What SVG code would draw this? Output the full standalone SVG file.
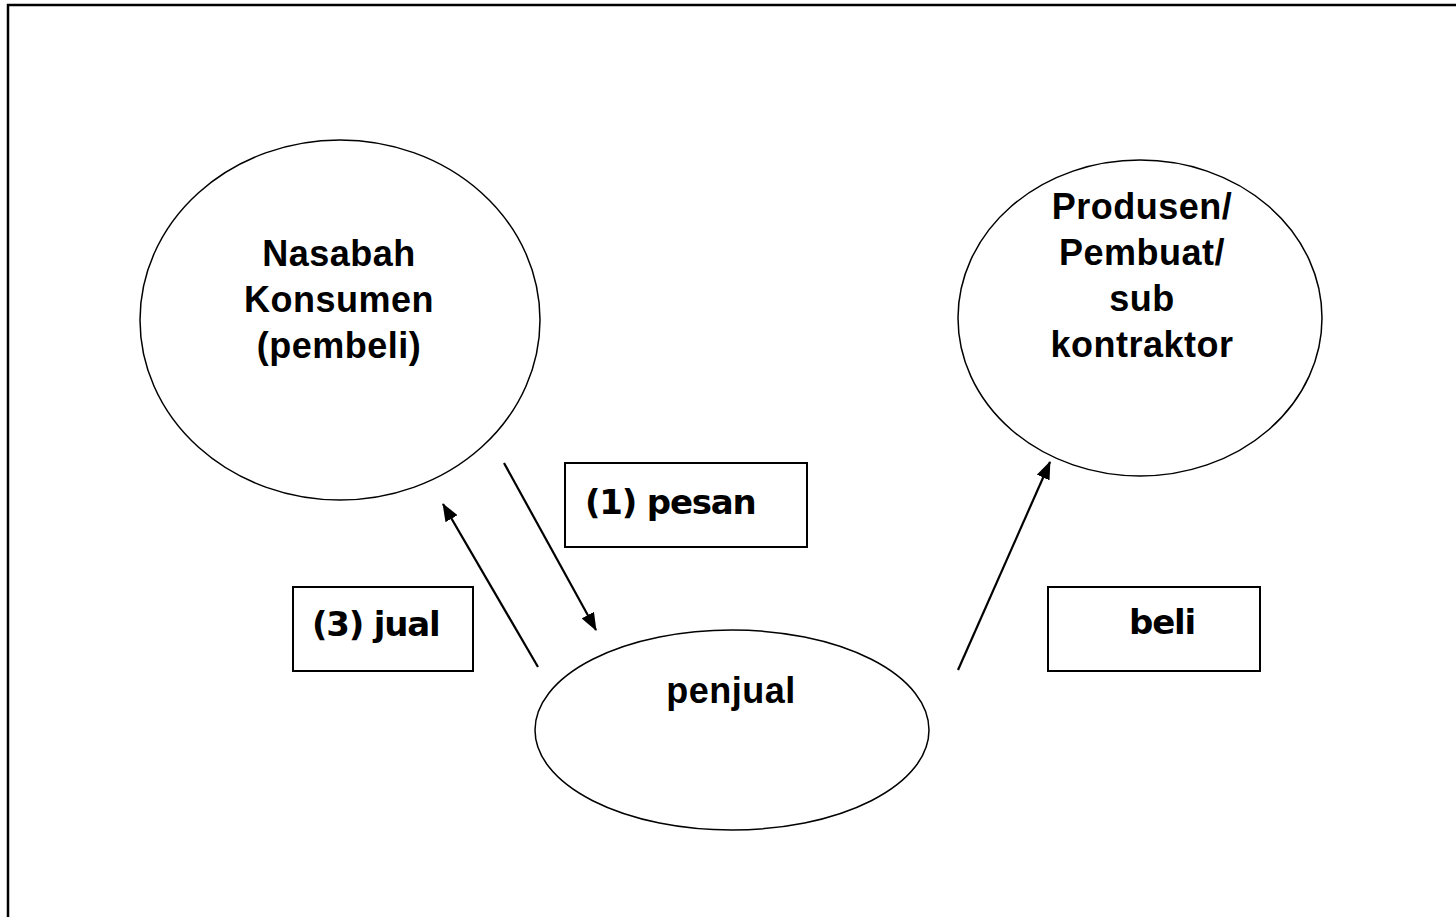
<svg xmlns="http://www.w3.org/2000/svg" width="1456" height="917" viewBox="0 0 1456 917">
<style>
.node{fill:none;stroke:#000;stroke-width:1.5}
.box{fill:#fff;stroke:#000;stroke-width:2}
.nt{font-family:"Liberation Sans",Arial,sans-serif;font-weight:bold;font-size:36px;text-anchor:middle;fill:#000;letter-spacing:0.5px}
.bt{font-family:"DejaVu Sans",sans-serif;font-weight:bold;font-size:34px;fill:#000;letter-spacing:-1.2px}
.conn line{stroke:#000;stroke-width:2.2;marker-end:url(#ah)}
</style>
<defs>
<marker id="ah" markerWidth="18" markerHeight="14" refX="17" refY="7" orient="auto" markerUnits="userSpaceOnUse" viewBox="0 0 18 14">
<path d="M0,0 L18,7 L0,14 Z" fill="#000"/>
</marker>
</defs>
<rect width="1456" height="917" fill="#fff"/>
<g id="frame">
<path d="M8,917 V5 H1456" fill="none" stroke="#000" stroke-width="2.5"/>
</g>
<g id="nasabah">
<ellipse class="node" cx="340" cy="320" rx="200" ry="180"/>
<text class="nt" x="339" y="266">Nasabah</text>
<text class="nt" x="339" y="312">Konsumen</text>
<text class="nt" x="339" y="358">(pembeli)</text>
</g>
<g id="produsen">
<ellipse class="node" cx="1140" cy="318" rx="182" ry="158"/>
<text class="nt" x="1142" y="219">Produsen/</text>
<text class="nt" x="1142" y="265">Pembuat/</text>
<text class="nt" x="1142" y="311">sub</text>
<text class="nt" x="1142" y="357">kontraktor</text>
</g>
<g id="penjual">
<ellipse class="node" cx="732" cy="730" rx="197" ry="100"/>
<text class="nt" x="731" y="703">penjual</text>
</g>
<g id="label-pesan">
<rect class="box" x="565" y="463" width="242" height="84"/>
<text class="bt" x="585" y="514">(1) pesan</text>
</g>
<g id="label-jual">
<rect class="box" x="293" y="587" width="180" height="84"/>
<text class="bt" x="312" y="636">(3) jual</text>
</g>
<g id="label-beli">
<rect class="box" x="1048" y="587" width="212" height="84"/>
<text class="bt" x="1129" y="634">beli</text>
</g>
<g id="connectors" class="conn">
<line x1="504" y1="463" x2="596" y2="630"/>
<line x1="538" y1="667" x2="443" y2="504"/>
<line x1="958" y1="670" x2="1050" y2="462"/>
</g>
</svg>
